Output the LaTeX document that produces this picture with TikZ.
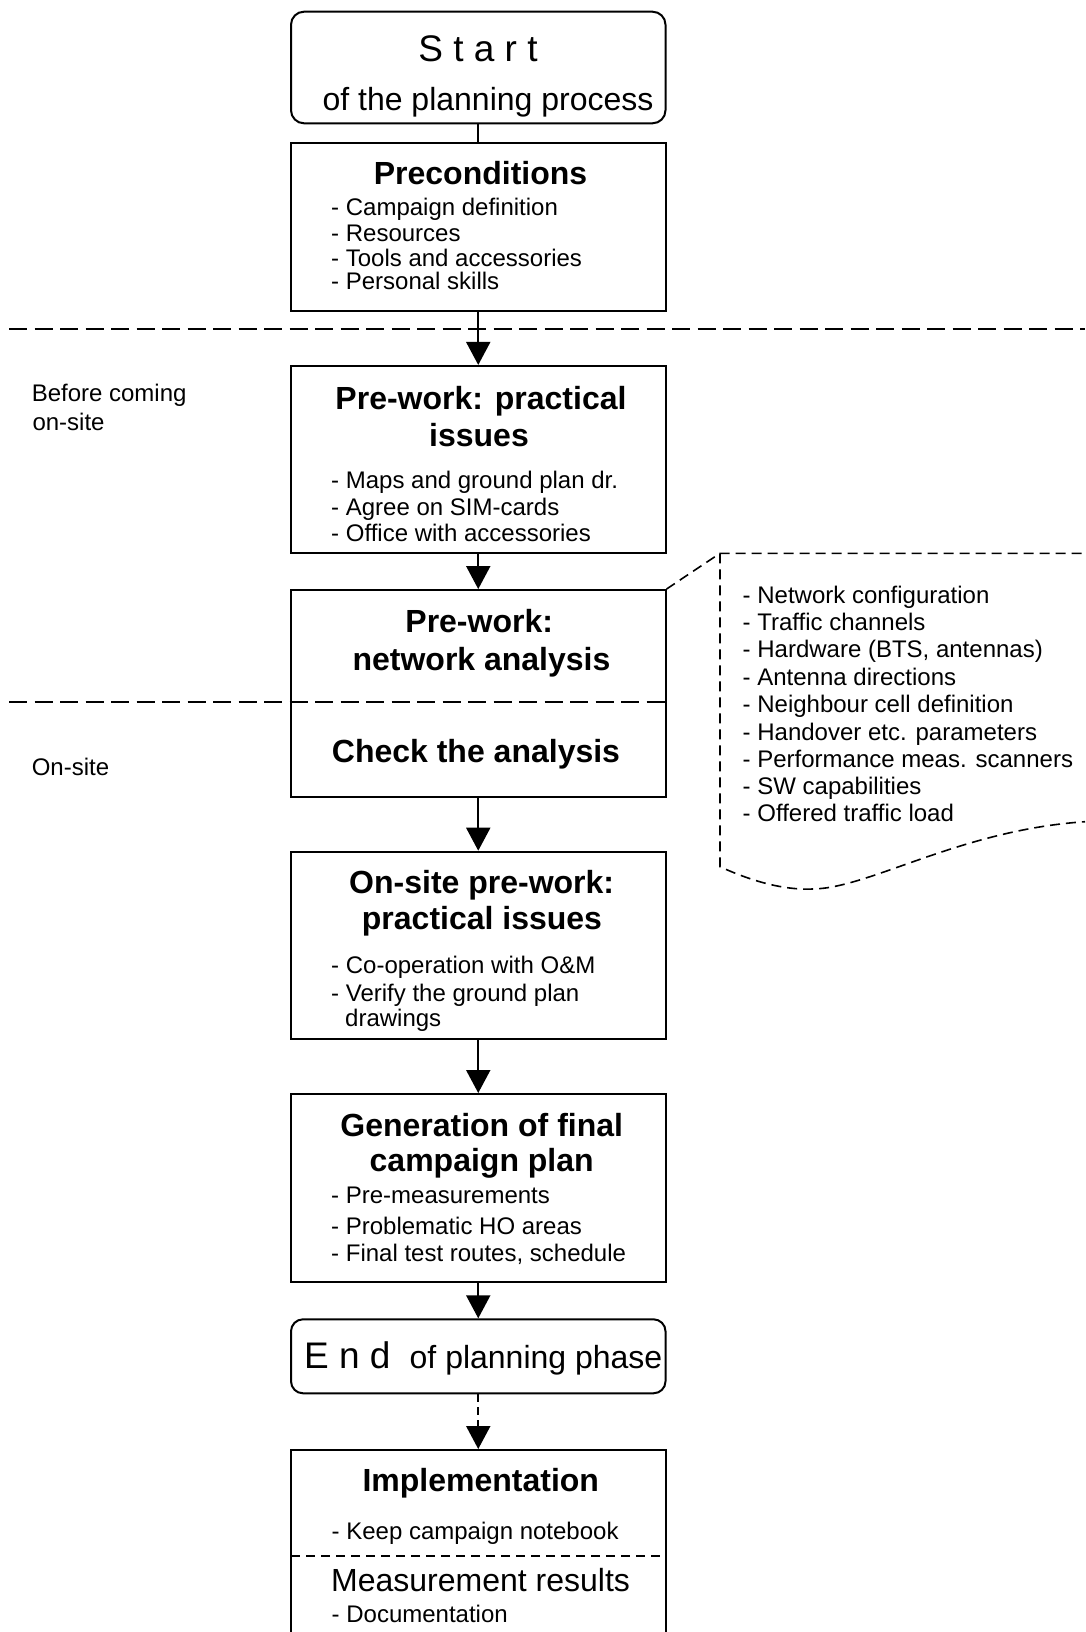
\documentclass[tikz,border=0pt]{standalone}
\usepackage{fontspec}
\setmainfont{Liberation Sans}
\usetikzlibrary{arrows.meta}
\tikzset{
 box/.style={draw, line width=2pt, inner sep=0pt, minimum width=374.5pt},
 rbox/.style={box, rounded corners=13pt},
 flow/.style={line width=2pt, -{Triangle[width=24pt,length=23pt]}},
 dflow/.style={flow, dash pattern=on 8pt off 5pt},
 sepline/.style={line width=2.3pt, dash pattern=on 18pt off 7.5pt},
 callout/.style={line width=1.6pt, dash pattern=on 10pt off 6pt},
 ttl/.style={inner sep=0pt, anchor=base, font=\fontsize{32}{36}\selectfont\bfseries},
 itm/.style={inner sep=0pt, anchor=base west, font=\fontsize{24}{28}\selectfont},
 lbl/.style={inner sep=0pt, anchor=base west, font=\fontsize{24}{28}\selectfont},
 bigtxt/.style={inner sep=0pt, anchor=base, font=\fontsize{32}{36}\selectfont},
 hugetxt/.style={inner sep=0pt, anchor=base, font=\fontsize{37}{42}\selectfont},
}
\begin{document}
\begin{tikzpicture}[x=1pt,y=-1pt]
\useasboundingbox (0,0) rectangle (1085,1632);

% boxes
\node[rbox, minimum height=111.6pt] (start) at (478.25,67.5) {};
\node[box, minimum height=168pt] (pre) at (478.25,226.7) {};
\node[box, minimum height=186.7pt] (pw1) at (478.25,459.3) {};
\node[box, minimum height=206.5pt] (pw2) at (478.25,693.3) {};
\node[box, minimum height=186.8pt] (os) at (478.25,945.1) {};
\node[box, minimum height=187.5pt] (gen) at (478.25,1187.75) {};
\node[box, rounded corners=12pt, minimum height=74pt] (end) at (478.25,1356.3) {};
\node[box, minimum height=250pt] (impl) at (478.25,1575) {};

% separators
\coordinate (s1a) at (9,329.3);
\coordinate (s1b) at (1085,329.3);
\coordinate (s2a) at (9,702);
\coordinate (s2b) at (665.5,702);
\coordinate (s3a) at (291,1555.7);
\coordinate (s3b) at (665.5,1555.7);
\draw[sepline] (s1a) -- (s1b);
\draw[sepline] (s2a) -- (s2b);
\draw[line width=2pt, dash pattern=on 9pt off 6pt] (s3a) -- (s3b);

% connectors
\draw[line width=2pt] (start.south) -- (pre.north);
\draw[flow] (pre.south) -- (pw1.north);
\draw[flow] (pw1.south) -- (pw2.north);
\draw[flow] (pw2.south) -- (os.north);
\draw[flow] (os.south) -- (gen.north);
\draw[flow] (gen.south) -- (end.north);
\draw[dflow] (end.south) -- (impl.north);

% callout
\coordinate (cTL) at (720,553.3);
\coordinate (cTR) at (1085,553.3);
\coordinate (cBL) at (720,866.7);
\coordinate (cBM) at (813,889);
\coordinate (cBR) at (1085,821.7);
\draw[callout] (pw2.north east) -- (cTL) -- (cTR);
\draw[callout] (cTL) -- (cBL) .. controls (760,885) and (790,890) .. (cBM)
  .. controls (870,888) and (960,830) .. (cBR);

% texts: start
\node[hugetxt] (tst) at (478,61.7) {S t a r t};
\node[bigtxt] (tst2) at (488,110.7) {of the planning process};

% preconditions
\node[ttl] (tpre) at (480.5,185) {Preconditions};
\node[itm] (p1) at (331,215) {- Campaign definition};
\node[itm] (p2) at (331,241.7) {- Resources};
\node[itm] (p3) at (331,266.7) {- Tools and accessories};
\node[itm] (p4) at (331,289.3) {- Personal skills};

% left labels
\node[lbl] (l1) at (31.6,401.7) {Before coming};
\node[lbl] (l2) at (32.3,430) {on-site};
\node[lbl] (l3) at (31.6,775) {On-site};

% pre-work practical
\node[ttl] (tpw1a) at (481,409.3) {Pre-work: practical};
\node[ttl] (tpw1b) at (479,446.7) {issues};
\node[itm] (q1) at (331,488.3) {- Maps and ground plan dr.};
\node[itm] (q2) at (331,515) {- Agree on SIM-cards};
\node[itm] (q3) at (331,541.7) {- Office with accessories};

% network analysis
\node[ttl] (tpw2a) at (479.2,632.7) {Pre-work:};
\node[ttl] (tpw2b) at (481.5,670) {network analysis};
\node[ttl] (tchk) at (476,762.7) {Check the analysis};

% callout list
\node[itm] (c1) at (742.5,603.3) {- Network configuration};
\node[itm] (c2) at (742.5,630.7) {- Traffic channels};
\node[itm] (c3) at (742.5,657.3) {- Hardware (BTS, antennas)};
\node[itm] (c4) at (742.5,685) {- Antenna directions};
\node[itm] (c5) at (742.5,712.7) {- Neighbour cell definition};
\node[itm] (c6) at (742.5,740) {- Handover etc. parameters};
\node[itm] (c7) at (742.5,767.3) {- Performance meas. scanners};
\node[itm] (c8) at (742.5,794.3) {- SW capabilities};
\node[itm] (c9) at (742.5,821.7) {- Offered traffic load};

% on-site pre-work
\node[ttl] (tosa) at (481.7,893.3) {On-site pre-work:};
\node[ttl] (tosb) at (482,929.3) {practical issues};
\node[itm] (o1) at (331,973.3) {- Co-operation with O\&M};
\node[itm] (o2) at (331,1001.7) {- Verify the ground plan};
\node[itm] (o3) at (345,1026.7) {drawings};

% generation
\node[ttl] (tgena) at (481.7,1136.7) {Generation of final};
\node[ttl] (tgenb) at (481.7,1171.7) {campaign plan};
\node[itm] (g1) at (331,1203.3) {- Pre-measurements};
\node[itm] (g2) at (331,1234.3) {- Problematic HO areas};
\node[itm] (g3) at (331,1261) {- Final test routes, schedule};

% end
\node[hugetxt, anchor=base west] (tend) at (304,1368.3) {E n d};
\node[bigtxt, anchor=base west] (tend2) at (409.5,1368.3) {of planning phase};

% implementation
\node[ttl] (timp) at (480.8,1491.7) {Implementation};
\node[itm] (i1) at (331.5,1539.3) {- Keep campaign notebook};
\node[bigtxt, anchor=base west] (tmeas) at (331,1591.7) {Measurement results};
\node[itm] (i2) at (331.5,1622.3) {- Documentation};
\end{tikzpicture}
\end{document}
